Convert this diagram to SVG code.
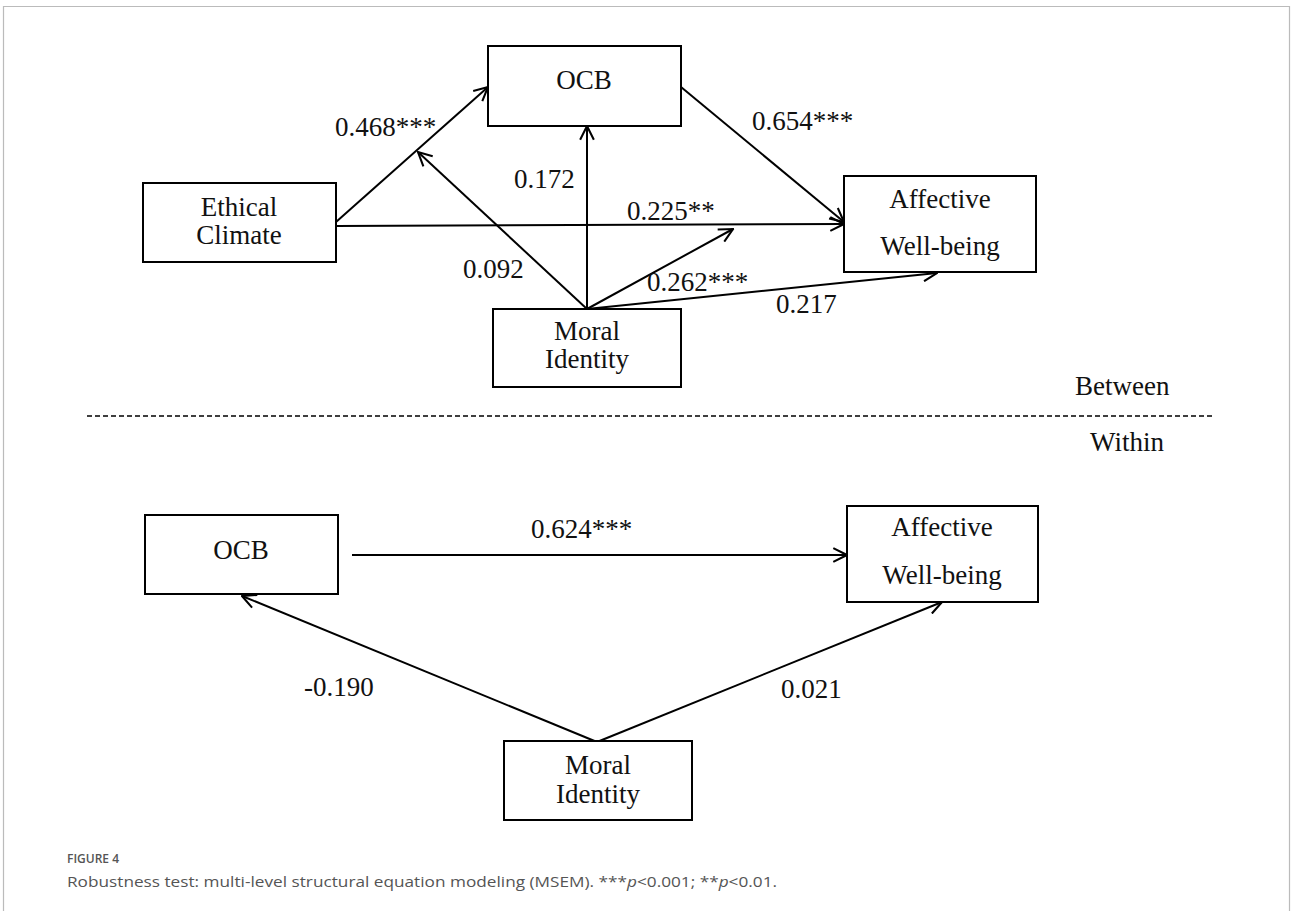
<svg xmlns="http://www.w3.org/2000/svg" width="1293" height="911" viewBox="0 0 1293 911">
<style>
.box{fill:#fff;stroke:#000;stroke-width:2}
.t{font-family:"Liberation Serif","Times New Roman",serif;font-size:27px;fill:#111;text-anchor:middle}
.lb{font-family:"Liberation Serif","Times New Roman",serif;font-size:27px;fill:#111}
.c{fill:none;stroke:#000;stroke-width:2}
.cap{font-family:"Open Sans","Noto Sans",sans-serif;fill:#555}
</style>
<defs>
<marker id="ah" viewBox="0 0 14 14" refX="13" refY="7" markerWidth="16" markerHeight="16" markerUnits="userSpaceOnUse" orient="auto">
<path d="M1,1 L13,7 L1,13" fill="none" stroke="#000" stroke-width="1.8"/>
</marker>
</defs>
<rect x="0" y="0" width="1293" height="911" fill="#fff"/>
<path d="M3.5,911 V6.5 H1289.5 V911" fill="none" stroke="#bbb" stroke-width="1.2"/>

<g id="connectors">
<line class="c" x1="336" y1="222" x2="488" y2="87" marker-end="url(#ah)"/>
<line class="c" x1="336" y1="226" x2="844" y2="224" marker-end="url(#ah)"/>
<line class="c" x1="681" y1="87" x2="844" y2="222" marker-end="url(#ah)"/>
<line class="c" x1="587" y1="309" x2="587" y2="126" marker-end="url(#ah)"/>
<line class="c" x1="587" y1="309" x2="418" y2="152" marker-end="url(#ah)"/>
<line class="c" x1="587" y1="309" x2="733" y2="229" marker-end="url(#ah)"/>
<line class="c" x1="587" y1="309" x2="937" y2="273" marker-end="url(#ah)"/>
<line x1="87" y1="416" x2="1213" y2="416" stroke="#000" stroke-width="1.5" stroke-dasharray="5,3"/>
<line class="c" x1="352" y1="555" x2="847" y2="555" marker-end="url(#ah)"/>
<line class="c" x1="597" y1="742" x2="242" y2="596" marker-end="url(#ah)"/>
<line class="c" x1="597" y1="742" x2="942" y2="602" marker-end="url(#ah)"/>
</g>

<g id="labels">
<text class="lb" x="335" y="136">0.468***</text>
<text class="lb" x="627" y="220">0.225**</text>
<text class="lb" x="752" y="130">0.654***</text>
<text class="lb" x="514" y="188">0.172</text>
<text class="lb" x="463" y="278">0.092</text>
<text class="lb" x="647" y="291">0.262***</text>
<text class="lb" x="776" y="313">0.217</text>
<text class="lb" x="531" y="538">0.624***</text>
<text class="lb" x="304" y="696">-0.190</text>
<text class="lb" x="781" y="698">0.021</text>
<text class="lb" x="1075" y="395">Between</text>
<text class="lb" x="1090" y="451">Within</text>
</g>

<g id="ethical-climate">
<rect class="box" x="143" y="183" width="193" height="79"/>
<text class="t" x="239" y="216">Ethical</text>
<text class="t" x="239" y="244">Climate</text>
</g>
<g id="ocb-between">
<rect class="box" x="488" y="46" width="193" height="80"/>
<text class="t" x="584" y="89">OCB</text>
</g>
<g id="awb-between">
<rect class="box" x="844" y="176" width="192" height="96"/>
<text class="t" x="940" y="208">Affective</text>
<text class="t" x="940" y="255">Well-being</text>
</g>
<g id="moral-between">
<rect class="box" x="493" y="309" width="188" height="78"/>
<text class="t" x="587" y="340">Moral</text>
<text class="t" x="587" y="368">Identity</text>
</g>
<g id="ocb-within">
<rect class="box" x="145" y="515" width="193" height="79"/>
<text class="t" x="241" y="559">OCB</text>
</g>
<g id="awb-within">
<rect class="box" x="847" y="506" width="191" height="96"/>
<text class="t" x="942" y="536">Affective</text>
<text class="t" x="942" y="584">Well-being</text>
</g>
<g id="moral-within">
<rect class="box" x="504" y="741" width="188" height="79"/>
<text class="t" x="598" y="774">Moral</text>
<text class="t" x="598" y="803">Identity</text>
</g>

<g id="caption">
<text class="cap" x="67" y="863" font-size="13" font-weight="600" textLength="52" lengthAdjust="spacingAndGlyphs">FIGURE 4</text>
<text class="cap" x="67" y="887" font-size="15" textLength="710" lengthAdjust="spacingAndGlyphs">Robustness test: multi-level structural equation modeling (MSEM). ***<tspan font-style="italic">p</tspan>&lt;0.001; **<tspan font-style="italic">p</tspan>&lt;0.01.</text>
</g>
</svg>
